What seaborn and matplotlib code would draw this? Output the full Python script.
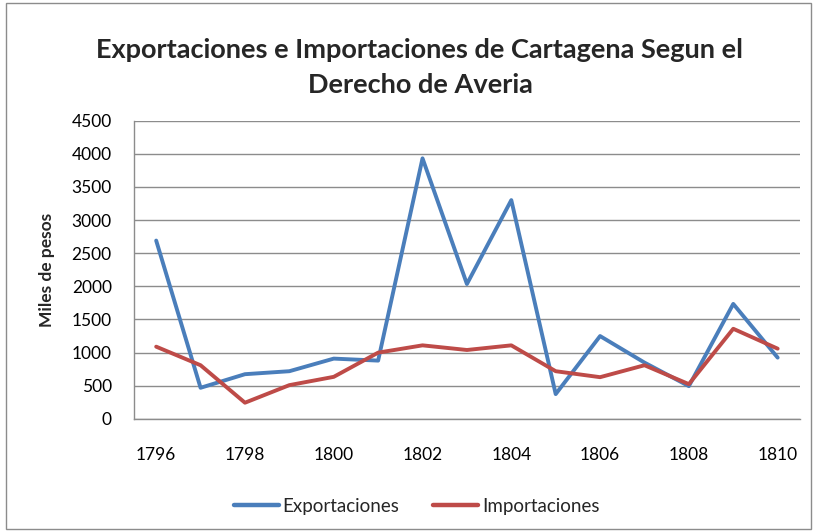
import pandas as pd
import matplotlib
matplotlib.use("Agg")
import matplotlib.pyplot as plt
import seaborn as sns
from matplotlib.patches import Rectangle

years = list(range(1796, 1811))
exportaciones = [2690, 470, 675, 720, 910, 880, 3930, 2035, 3300, 375, 1250, 850, 495, 1735, 925]
importaciones = [1090, 810, 245, 510, 635, 1000, 1110, 1040, 1110, 720, 630, 810, 525, 1360, 1060]
series_names = ["Exportaciones", "Importaciones"]
series_colors = ["#4A7EBB", "#BE4B48"]
y_ticks = list(range(0, 4501, 500))
x_ticks = list(range(1796, 1811, 2))


def build_frame():
    df = pd.DataFrame({"year": years, series_names[0]: exportaciones, series_names[1]: importaciones})
    return df.melt(id_vars="year", var_name="serie", value_name="valor")


def main():
    sns.set_theme(style="white")
    plt.rcParams["font.family"] = ["Lato", "DejaVu Sans"]

    fig = plt.figure(figsize=(8.17, 5.31), dpi=100)
    ax = fig.add_axes([0.164, 0.211, 0.815, 0.562])

    data = build_frame()
    sns.lineplot(data=data, x="year", y="valor", hue="serie",
                 palette=series_colors, linewidth=2.8, ax=ax, legend=False)

    ax.set_xlim(1795.5, 1810.5)
    ax.set_ylim(0, 4500)
    ax.set_yticks(y_ticks)
    ax.set_xticks(x_ticks)
    ax.yaxis.grid(True, color="#8c8c8c", linewidth=1)
    ax.xaxis.grid(False)
    ax.set_axisbelow(True)
    for side in ["top", "right"]:
        ax.spines[side].set_visible(False)
    for side in ["left", "bottom"]:
        ax.spines[side].set_color("#8c8c8c")
        ax.spines[side].set_linewidth(1)
    ax.tick_params(axis="both", length=0, labelsize=12.5, colors="black")
    ax.tick_params(axis="y", pad=16)
    ax.tick_params(axis="x", pad=20)
    ax.set_xlabel("")
    ax.set_ylabel("Miles de pesos", fontsize=12.5, fontweight="bold", labelpad=12)

    fig.text(0.514, 0.905, "Exportaciones e Importaciones de Cartagena Segun el",
             ha="center", va="center", fontsize=19.5, fontweight="bold")
    fig.text(0.514, 0.840, "Derecho de Averia",
             ha="center", va="center", fontsize=19.5, fontweight="bold")

    handles = [plt.Line2D([], [], color=c, linewidth=3.2) for c in series_colors]
    fig.legend(handles, series_names, loc="center", bbox_to_anchor=(0.51, 0.047),
               ncol=2, frameon=False, fontsize=13.5, handlelength=2.4,
               handletextpad=0.2, columnspacing=1.8)

    fig.patches.append(Rectangle((0.007, 0.004), 0.986, 0.99, transform=fig.transFigure,
                                 fill=False, edgecolor="#8c8c8c", linewidth=1))

    fig.savefig("out.png", dpi=100, facecolor="white")


if __name__ == "__main__":
    main()
